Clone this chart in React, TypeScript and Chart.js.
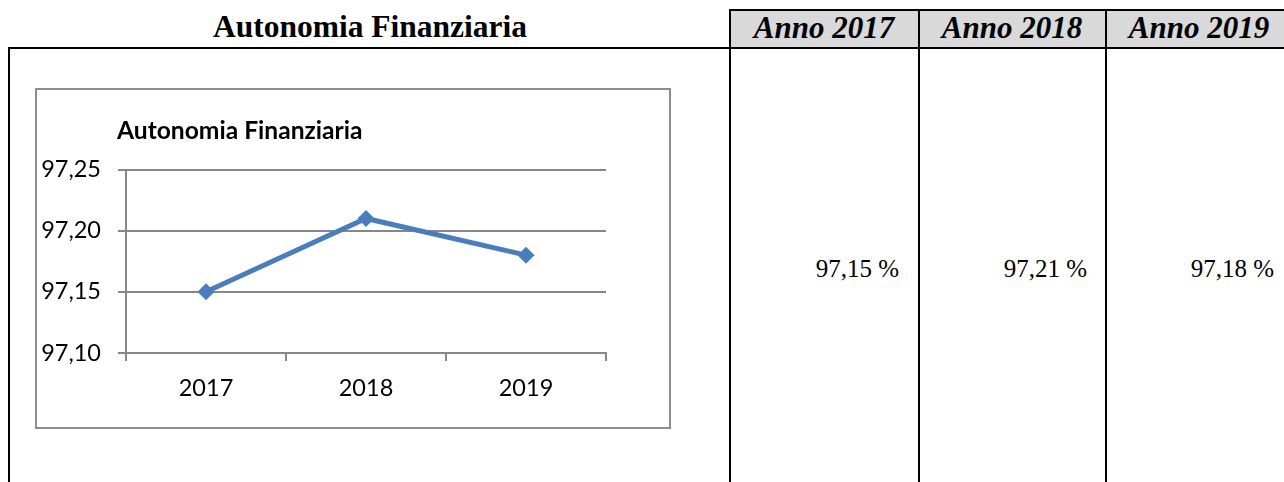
import React, { useEffect, useRef } from 'react';
import { Chart, registerables } from 'chart.js';

Chart.register(...registerables);

const tableTitle = 'Autonomia Finanziaria';
const chartTitle = 'Autonomia Finanziaria';
const categories = ['2017', '2018', '2019'];
const values = [97.15, 97.21, 97.18];
const yTicks = [97.1, 97.15, 97.2, 97.25];
const headerYears = ['Anno 2017', 'Anno 2018', 'Anno 2019'];
const cellValues = ['97,15 %', '97,21 %', '97,18 %'];

const LINE = '#4A7EBB';
const GRID = '#878787';
const SERIF = "'Liberation Serif', 'Times New Roman', serif";
const SANS = "Lato, 'Open Sans', sans-serif";

const titleShift = {
  id: 'titleShift',
  afterLayout(chart: any) {
    const t = chart.titleBlock;
    if (t) {
      t.left = 80;
    }
  },
};

function LineChart() {
  const ref = useRef<HTMLCanvasElement | null>(null);
  useEffect(() => {
    if (!ref.current) return;
    const chart = new Chart(ref.current, {
      type: 'line',
      data: {
        labels: categories,
        datasets: [
          {
            data: values,
            borderColor: LINE,
            backgroundColor: LINE,
            borderWidth: 5,
            pointStyle: 'rectRot',
            pointRadius: 8.5,
            pointBorderWidth: 0,
            pointBackgroundColor: LINE,
            tension: 0,
          },
        ],
      },
      options: {
        responsive: false,
        animation: false,
        devicePixelRatio: 1,
        layout: { padding: { left: 0, right: 63, top: 0, bottom: 0 } },
        plugins: {
          legend: { display: false },
          tooltip: { enabled: false },
          title: {
            display: true,
            text: chartTitle,
            align: 'start',
            color: '#000',
            font: { family: SANS, size: 24.6, weight: 'bold' },
            padding: { top: 26, bottom: 24 },
          },
        },
        scales: {
          x: {
            offset: true,
            grid: { offset: true, drawOnChartArea: false, tickLength: 8, color: GRID, lineWidth: 2 },
            border: { color: GRID, width: 2 },
            ticks: { color: '#000', font: { family: SANS, size: 23.5 }, padding: 13, maxRotation: 0 },
            afterFit: (s: any) => {
              s.height = 74;
            },
          },
          y: {
            min: 97.1,
            max: 97.25,
            grid: { tickLength: 8, color: GRID, lineWidth: 2 },
            border: { color: GRID, width: 2 },
            ticks: {
              color: '#000',
              font: { family: SANS, size: 23.5 },
              padding: 17,
              callback: (v: any) => Number(v).toFixed(2).replace('.', ','),
            },
            afterBuildTicks: (s: any) => {
              s.ticks = yTicks.map((v) => ({ value: v }));
            },
            afterFit: (s: any) => {
              s.width = 89;
            },
          },
        },
      },
      plugins: [titleShift],
    } as any);
    return () => chart.destroy();
  }, []);
  return <canvas ref={ref} width={632} height={337} style={{ width: 632, height: 337, display: 'block' }} />;
}

const abs = (l: number, t: number, w: number, h: number, extra: React.CSSProperties = {}): React.CSSProperties => ({
  position: 'absolute',
  left: l,
  top: t,
  width: w,
  height: h,
  ...extra,
});

export default function App() {
  const colLeft = [731, 919, 1106];
  const colWidth = 186;
  return (
    <div style={abs(0, 0, 1284, 482, { overflow: 'hidden', background: '#fff', fontFamily: SERIF })}>
      <div
        style={abs(8, 8, 724, 38, {
          textAlign: 'center',
          fontWeight: 'bold',
          fontSize: 31.5,
          lineHeight: '38px',
          color: '#000',
          whiteSpace: 'nowrap',
        })}
      >
        {tableTitle}
      </div>
      <div style={abs(730, 9, 600, 39, { background: '#d9d9d9' })} />
      {headerYears.map((t, i) => (
        <div
          key={t}
          style={abs(colLeft[i], 9, colWidth, 38, {
            textAlign: 'center',
            fontWeight: 'bold',
            fontStyle: 'italic',
            fontSize: 31,
            lineHeight: '38px',
            color: '#000',
            whiteSpace: 'nowrap',
          })}
        >
          {t}
        </div>
      ))}
      {cellValues.map((t, i) => (
        <div
          key={t}
          style={abs(colLeft[i], 254, colWidth - 18, 30, {
            textAlign: 'right',
            fontSize: 25,
            lineHeight: '30px',
            color: '#000',
            whiteSpace: 'nowrap',
          })}
        >
          {t}
        </div>
      ))}
      <div style={abs(730, 9, 600, 2, { background: '#000' })} />
      <div style={abs(8, 47, 1300, 2, { background: '#000' })} />
      <div style={abs(8, 47, 2, 440, { background: '#000' })} />
      <div style={abs(729, 9, 2, 480, { background: '#000' })} />
      <div style={abs(918, 9, 2, 480, { background: '#000' })} />
      <div style={abs(1105, 9, 2, 480, { background: '#000' })} />
      <div style={abs(35, 88, 636, 341, { border: '2px solid #8e8e8e', boxSizing: 'border-box', background: '#fff' })} />
      <div style={abs(37, 90, 632, 337)}>
        <LineChart />
      </div>
    </div>
  );
}
